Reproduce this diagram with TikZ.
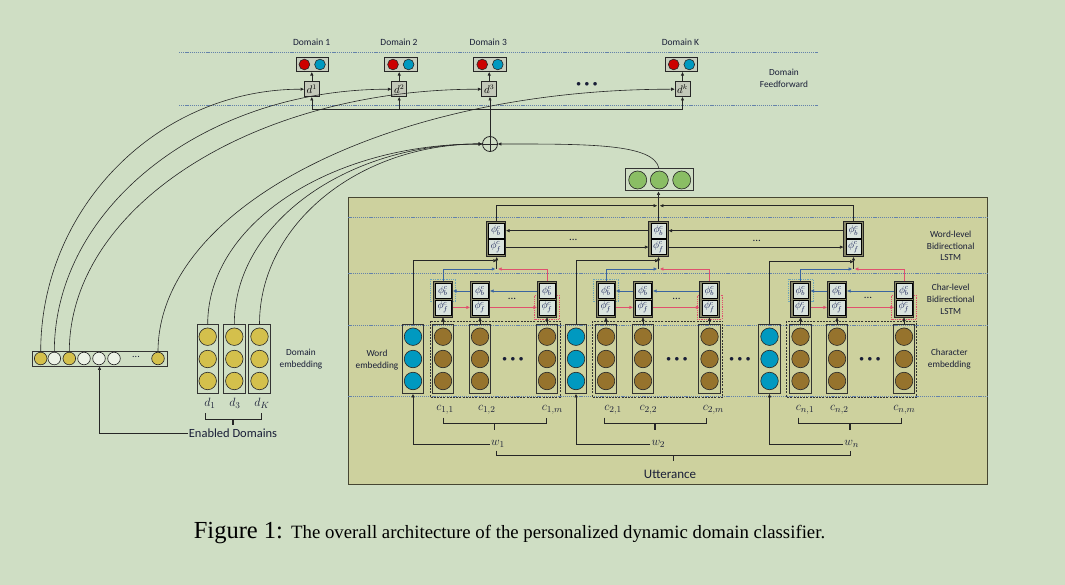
\documentclass[tikz,border=0pt]{standalone}
\usepackage{fontspec}
\setmainfont{Carlito}
\newfontfamily\capfont{Liberation Serif}
\usetikzlibrary{arrows.meta,calc}
\definecolor{bg}{RGB}{207,222,196}
\definecolor{boxfill}{RGB}{205,209,158}
\definecolor{boxline}{RGB}{70,70,50}
\definecolor{yel}{RGB}{212,192,76}
\definecolor{brn}{RGB}{150,115,45}
\definecolor{cyanb}{RGB}{0,153,192}
\definecolor{grn}{RGB}{138,190,100}
\definecolor{redc}{RGB}{204,0,0}
\definecolor{dashc}{RGB}{100,130,170}
\definecolor{bline}{RGB}{58,100,160}
\definecolor{rline}{RGB}{224,80,110}
\definecolor{txt}{RGB}{25,30,55}
\definecolor{phic}{RGB}{25,35,90}
\definecolor{cellg}{RGB}{135,135,105}
\definecolor{cellin}{RGB}{218,228,222}
\definecolor{dbox}{RGB}{195,200,185}
\definecolor{rbfill}{RGB}{200,206,190}
\definecolor{wc}{RGB}{236,242,230}
\definecolor{hlblue}{RGB}{110,165,185}
\definecolor{hlred}{RGB}{225,80,110}
\tikzset{
  lbl/.style={font=\fontsize{9.3}{11.7}\selectfont, text=txt, align=center, inner sep=0pt},
  mth/.style={font=\fontsize{12.5}{12.5}\selectfont, text=txt, inner sep=1pt},
  dline/.style={draw=dashc, line width=0.9pt, dash pattern=on 1.2pt off 0.9pt},
  arr/.style={-{Triangle[length=3.4pt,width=3pt]}, line width=0.6pt, draw=black!85},
  barr/.style={arr, draw=bline},
  rarr/.style={arr, draw=rline},
  plain/.style={line width=0.6pt, draw=black!85},
  colbox/.style={rectangle, draw=black!80, line width=0.9pt, minimum width=21.5pt, minimum height=69pt, inner sep=0pt},
  cyc/.style={circle, draw=black!85, line width=0.6pt, minimum size=17.5pt, inner sep=0pt},
  cellout/.style={rectangle, draw=black!85, line width=0.8pt, fill=cellg, minimum width=19.5pt, minimum height=35.5pt, inner sep=0pt},
  cellsub/.style={rectangle, draw=black, line width=0.5pt, fill=cellin, minimum width=15.5pt, minimum height=15pt, inner sep=0pt, font=\fontsize{10}{10}\selectfont, text=phic},
  dbx/.style={rectangle, draw=black!85, line width=0.8pt, fill=dbox, minimum width=15pt, minimum height=15pt, inner sep=0pt, font=\fontsize{10.5}{10.5}\selectfont},
  rbx/.style={rectangle, draw=black!85, line width=0.9pt, fill=rbfill, minimum width=32.3pt, minimum height=14.4pt, inner sep=0pt},
  smc/.style={circle, draw=black!85, line width=0.6pt, minimum size=10.7pt, inner sep=0pt},
  bdot/.style={font=\fontsize{9}{9}\selectfont, inner sep=0pt, text=txt},
  sdot/.style={font=\fontsize{11}{11}\selectfont, inner sep=0pt, text=txt},
  brace/.style={line width=0.7pt, draw=black!85},
  tick/.style={line width=1.3pt, draw=black!85},
  gbox/.style={draw=black!80, line width=0.8pt, dash pattern=on 2pt off 1.2pt},
  hlb/.style={draw=hlblue, line width=0.8pt, densely dotted},
  hlr/.style={draw=hlred, line width=0.8pt, densely dotted},
  plusc/.style={circle, draw=black!85, line width=0.8pt, minimum size=15pt, inner sep=0pt,
    path picture={\draw[line width=0.7pt] (path picture bounding box.north) -- (path picture bounding box.south) (path picture bounding box.west) -- (path picture bounding box.east);}},
}
\newcommand\lcell[4]{%
  \node[cellout] (#1) at (#2,#3) {};
  \node[cellsub] (#1b) at (#2,#3-#4) {$\phi^{\mkern-1mu c}_{\mkern-1mu b}$};
  \node[cellsub] (#1f) at (#2,#3+#4) {$\phi^{\mkern-1mu c}_{\mkern-1mu f}$};
}
\newcommand\ecol[3]{%
  \node[colbox] (#1) at (#2,359) {};
  \node[cyc,fill=#3] (#1-1) at (#2,336.7) {};
  \node[cyc,fill=#3] (#1-2) at (#2,359) {};
  \node[cyc,fill=#3] (#1-3) at (#2,381) {};
}
\begin{document}
\begin{tikzpicture}[x=1pt,y=-1pt]
\fill[bg] (0,0) rectangle (1065,585);
\useasboundingbox (0,0) rectangle (1065,585);

% ---------- top: domain feedforward ----------
\draw[dline] (179,52.7) -- (818,52.7);
\draw[dline] (179,105) -- (818,105);
\foreach \n/\x/\t in {1/311.7/Domain 1, 2/399/Domain 2, 3/488.3/Domain 3, K/680.5/Domain K}
  \node[lbl, font=\fontsize{9.5}{10}\selectfont] (dl\n) at (\x,42.3) {\t};
\foreach \n/\x in {1/312.2, 2/400.8, 3/490, K/681.5} {
  \node[rbx] (rb\n) at (\x,64.5) {};
  \node[smc, fill=redc] (rb\n-r) at (\x-7.8,64.5) {};
  \node[smc, fill=cyanb] (rb\n-b) at (\x+7.8,64.5) {};
}
\node[dbx] (d1) at (311.8,89.2) {$d^1$};
\node[dbx] (d2) at (399.2,89.2) {$d^2$};
\node[dbx] (d3) at (489.2,89.2) {$d^3$};
\node[dbx] (dK) at (682.5,89.2) {$d^k$};
\foreach \n in {1,2,3,K} \draw[arr] (d\n.north) -- (d\n.north |- rb\n.south);
\coordinate (hL) at (311.8,109);
\coordinate (hR) at (682.5,109);
\draw[plain] (hL) -- (hR);
\foreach \n in {1,2,K} \draw[arr] (d\n.south |- hL) -- (d\n.south);
\node[plusc] (plus) at (490,144) {};
\draw[arr] (plus.north) -- (plus.north |- d3.south);
\node[bdot] (tdots) at (587,84) {$\bullet\,\bullet\,\bullet$};
\node[lbl] (dff) at (784,78.5) {Domain\\Feedforward};

% ---------- big box ----------
\draw[draw=boxline, fill=boxfill, line width=1.1pt] (348.3,197.7) rectangle (987.3,484.3);
\foreach \y in {217.5,273,325,396.5} \draw[dline] (348.3,\y) -- (987.3,\y);

% green output vector
\node[rectangle, draw=black!80, line width=1pt, fill=bg, minimum width=68pt, minimum height=22pt, inner sep=0pt] (gv) at (659,180) {};
\node[cyc, minimum size=18pt, fill=grn] (gv-1) at (637.7,180) {};
\node[cyc, minimum size=18pt, fill=grn] (gv-2) at (659.3,180) {};
\node[cyc, minimum size=18pt, fill=grn] (gv-3) at (681.7,180) {};

% word-level cells
\lcell{W1}{496}{238.9}{8.2}
\lcell{W2}{658.5}{238.9}{8.2}
\lcell{W3}{853.5}{238.9}{8.2}
\node[sdot] (wd1) at (573.3,240) {...};
\node[sdot] (wd2) at (756.7,240.7) {...};
\draw[arr] (W2.west |- W2b) -- (W1.east |- W1b);
\draw[arr] (W3.west |- W3b) -- (W2.east |- W2b);
\draw[arr] (W1.east |- W1f) -- (W2.west |- W2f);
\draw[arr] (W2.east |- W2f) -- (W3.west |- W3f);
\coordinate (J) at (658.5,205.7);
\draw[arr] (W1.north) |- ([xshift=-1.5pt]J);
\draw[arr] (W3.north) |- ([xshift=1.5pt]J);
\draw[arr] (W2.north) -- (W2.north |- gv.south);

% highlight boxes
\foreach \x in {443,606,800.5} \draw[hlb] (\x-12.5,279) rectangle (\x+12.5,301.5);
\foreach \x in {547,709.5,904} \draw[hlr] (\x-12.5,295.5) rectangle (\x+12.5,319);

% char-level cells
\lcell{Ga1}{443}{299.2}{8.2}
\lcell{Ga2}{480}{299.2}{8.2}
\lcell{Ga3}{547}{299.2}{8.2}
\lcell{Gb1}{606}{299.2}{8.2}
\lcell{Gb2}{643}{299.2}{8.2}
\lcell{Gb3}{709.5}{299.2}{8.2}
\lcell{Gc1}{800.5}{299.2}{8.2}
\lcell{Gc2}{837}{299.2}{8.2}
\lcell{Gc3}{904}{299.2}{8.2}
\node[sdot] (cd1) at (512,299) {...};
\node[sdot] (cd2) at (676.5,299) {...};
\node[sdot] (cd3) at (868,298) {...};
\foreach \g in {a,b,c} {
  \draw[barr] (G\g3.west |- G\g3b) -- (G\g2.east |- G\g2b);
  \draw[barr] (G\g2.west |- G\g2b) -- (G\g1.east |- G\g1b);
  \draw[rarr] (G\g1.east |- G\g1f) -- (G\g2.west |- G\g2f);
  \draw[rarr] (G\g2.east |- G\g2f) -- (G\g3.west |- G\g3f);
}

% embeddings
\ecol{B1}{413}{cyanb}
\ecol{B2}{576}{cyanb}
\ecol{B3}{769.5}{cyanb}
\ecol{Ea1}{443}{brn}
\ecol{Ea2}{480}{brn}
\ecol{Ea3}{547}{brn}
\ecol{Eb1}{606}{brn}
\ecol{Eb2}{643}{brn}
\ecol{Eb3}{709.5}{brn}
\ecol{Ec1}{800.5}{brn}
\ecol{Ec2}{837}{brn}
\ecol{Ec3}{904}{brn}
\draw[gbox] (430,321) rectangle (560,397.3);
\draw[gbox] (592.3,321) rectangle (722.7,397.3);
\draw[gbox] (786.7,321) rectangle (916.7,397.3);
\node[bdot] (ed1) at (513,359) {$\bullet\,\bullet\,\bullet$};
\node[bdot] (ed2) at (677,359) {$\bullet\,\bullet\,\bullet$};
\node[bdot] (ed3) at (740,359) {$\bullet\,\bullet\,\bullet$};
\node[bdot] (ed4) at (870,359) {$\bullet\,\bullet\,\bullet$};
\foreach \g in {a,b,c} \foreach \i in {1,2,3} \draw[arr] (E\g\i.north) -- (G\g\i.south);

% inputs to word-level cells
\coordinate (ja) at (496.7,269);  \coordinate (ka) at (496.7,260.7);
\coordinate (jb) at (658.5,269);  \coordinate (kb) at (658.5,260.7);
\coordinate (jc) at (853.5,269);  \coordinate (kc) at (853.5,261.7);
\draw[barr] (Ga1.north) |- ([xshift=-1.5pt]ja);
\draw[rarr] (Ga3.north) |- ([xshift=1.5pt]ja);
\draw[arr] (ja) -- (ja |- W1.south);
\draw[arr] (B1.north) |- (ka);
\draw[barr] (Gb1.north) |- ([xshift=-1.5pt]jb);
\draw[rarr] (Gb3.north) |- ([xshift=1.5pt]jb);
\draw[arr] (jb) -- (jb |- W2.south);
\draw[arr] (B2.north) |- (kb);
\draw[barr] (Gc1.north) |- ([xshift=-1.5pt]jc);
\draw[rarr] (Gc3.north) |- ([xshift=1.5pt]jc);
\draw[arr] (jc) -- (jc |- W3.south);
\draw[arr] (B3.north) |- (kc);

% labels in big box
\node[lbl] (wemb) at (377,360) {Word\\embedding};
\node[lbl] (cemb) at (949.3,359.3) {Character\\embedding};
\node[lbl] (wlstm) at (950.7,246) {Word-level\\Bidirectional\\LSTM};
\node[lbl] (clstm) at (950.7,299.3) {Char-level\\Bidirectional\\LSTM};

\node[mth] (c11) at (445,410) {$c_{1,1}$};
\node[mth] (c12) at (486.7,410) {$c_{1,2}$};
\node[mth] (c1m) at (552.3,410) {$c_{1,m}$};
\node[mth] (c21) at (613,410) {$c_{2,1}$};
\node[mth] (c22) at (648.3,410) {$c_{2,2}$};
\node[mth] (c2m) at (713.3,410) {$c_{2,m}$};
\node[mth] (cn1) at (805,410) {$c_{n,1}$};
\node[mth] (cn2) at (839.3,410) {$c_{n,2}$};
\node[mth] (cnm) at (904.3,410) {$c_{n,m}$};
\draw[brace] (443.3,417.5) |- (546,423.5) -- (546,417.5);
\draw[tick] (494.3,423.5) -- (494.3,430);
\draw[brace] (604.3,417.5) |- (706,423.5) -- (706,417.5);
\draw[tick] (655,423.5) -- (655,430);
\draw[brace] (798.3,417.5) |- (901,423.5) -- (901,417.5);
\draw[tick] (850,423.5) -- (850,430);

\node[mth] (w1) at (498,444) {$w_1$};
\node[mth] (w2) at (658.3,444) {$w_2$};
\node[mth] (wn) at (851.7,444) {$w_n$};
\draw[arr] (w1.west) -| (B1.south);
\draw[arr] (w2.west) -| (B2.south);
\draw[arr] (wn.west) -| (B3.south);
\draw[brace] (496,450.5) |- (850,455.5) -- (850,450.5);
\draw[tick] (673.3,455.5) -- (673.3,461);
\node[font=\fontsize{13}{13}\selectfont, text=txt, inner sep=0pt] (utt) at (670,474) {Utterance};

% ---------- left: enabled domains ----------
\node[rectangle, draw=black!80, line width=0.9pt, fill=bg, minimum width=135pt, minimum height=15pt, inner sep=0pt] (bar) at (99.5,358.5) {};
\foreach \x/\c [count=\k] in {40.7/yel, 54.3/wc, 69.3/yel, 84/wc, 99/wc, 114/wc, 158/yel}
  \node[cyc, minimum size=12.6pt, fill=\c] (bar\k) at (\x,358.5) {};
\node[sdot, font=\fontsize{10}{10}\selectfont] (bdots) at (136,357) {...};

\ecol{De1}{207.7}{yel}
\ecol{De2}{234.3}{yel}
\ecol{De3}{259.5}{yel}
\node[lbl] (demb) at (301,359) {Domain\\embedding};
\node[mth] (dd1) at (210,403) {$d_1$};
\node[mth] (dd3) at (235,403) {$d_3$};
\node[mth] (ddK) at (262,403) {$d_K$};
\draw[brace] (205.7,413.3) |- (261.3,419.3) -- (261.3,413.3);
\draw[tick] (233,419.3) -- (233,424.5);
\node[font=\fontsize{12.5}{12.5}\selectfont, text=txt, inner sep=1pt] (en) at (233,433) {Enabled Domains};
\draw[arr] (en.west) -| (bar.south);

% ---------- curves ----------
\draw[arr] (bar1.north) .. controls +(0,-145) and +(-145,0) .. (d1.west);
\draw[arr] (bar2.north) .. controls +(0,-145) and +(-186,0) .. (d2.west);
\draw[arr] (bar3.north) .. controls +(0,-145) and +(-228,0) .. (d3.west);
\draw[arr] (bar7.north) .. controls +(0,-145) and +(-285,0) .. (dK.west);
\draw[arr] (De1.north) .. controls +(0,-100) and +(-152,0) .. (plus.west);
\draw[arr] (De2.north) .. controls +(0,-100) and +(-137,0) .. (plus.west);
\draw[arr] (De3.north) .. controls +(0,-100) and +(-123,0) .. (plus.west);
\draw[arr] (gv.north) .. controls +(-5,-25) and +(90,0) .. (plus.east);

% ---------- caption ----------
\node[inner sep=0pt, text=black] (cap) at (509.5,533) {\capfont\fontsize{24.5}{27}\selectfont Figure 1: \fontsize{18.8}{21}\selectfont The overall architecture of the personalized dynamic domain classifier.};
\end{tikzpicture}
\end{document}
